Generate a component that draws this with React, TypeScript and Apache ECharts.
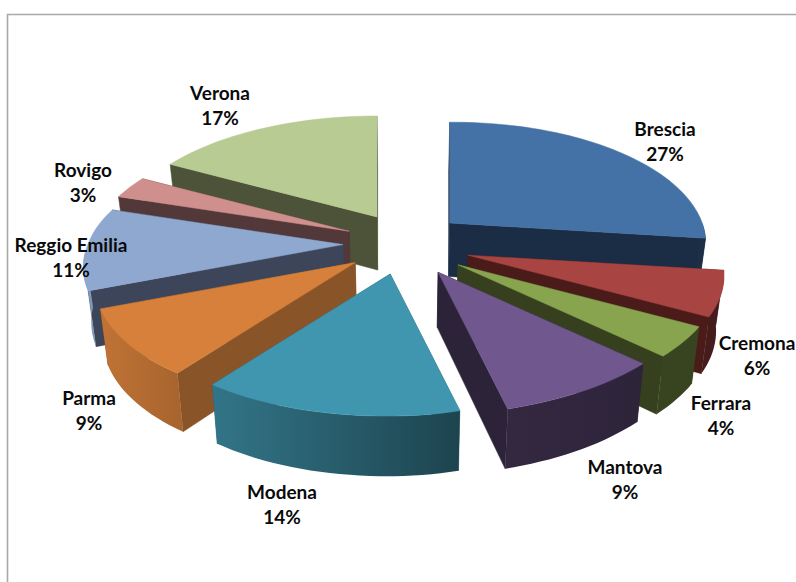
import React, { useEffect, useRef } from "react";
import * as echarts from "echarts";

const categories = ["Brescia", "Cremona", "Ferrara", "Mantova", "Modena", "Parma", "Reggio Emilia", "Rovigo", "Verona"];
const shares = [27, 6, 4, 9, 14, 9, 11, 3, 17];

const topColors = ["#4472A6", "#A84442", "#89A44E", "#70588E", "#4096AE", "#D6803B", "#8FA8CF", "#CF8F8D", "#B7CB93"];
const radialColors = ["#1A2D45", "#4A1B18", "#36401F", "#2C2338", "#2A5F6E", "#8A5429", "#3C4559", "#53383A", "#4D5339"];
const labelCentres: number[][] = [
  [665, 141], [757, 355], [721, 415], [625, 479], [282, 504], [89, 410], [71, 257], [83, 182], [220, 105],
];
const apexNudgeX = [-2.5, 3, 2, 1, -3, 0, 1, 2, 4];
const apexNudgeY = [0, 2, 3, 2, 0, 0, 0, 0, 0];
const drawOrder = [8, 0, 7, 1, 6, 2, 5, 3, 4];

const CX = 405, CY = 243.6;
const EX = 63, EY = 31;
const R = 249, KR = 118, P = 0.169;

const rad = (d: number) => (d * Math.PI) / 180;
const total = shares.reduce((a, b) => a + b, 0);
const bounds = shares.map((_, i) => {
  const before = shares.slice(0, i).reduce((a, b) => a + b, 0);
  return [(before / total) * 360, ((before + shares[i]) / total) * 360];
});

function arcShade(t: number) {
  if (t <= 165) return 0.41;
  if (t <= 216) return 0.45 + ((t - 165) / 51) * 0.33;
  if (t <= 250) return 0.8 + ((t - 216) / 34) * 0.1;
  return 0.92;
}
function shade(hex: string, f: number) {
  const n = parseInt(hex.slice(1), 16);
  const c = [(n >> 16) & 255, (n >> 8) & 255, n & 255].map((v) => Math.round(v * f));
  return `rgb(${c[0]},${c[1]},${c[2]})`;
}
function topPoint(t: number, ax: number, ay: number) {
  const s = Math.sin(rad(t)), c = Math.cos(rad(t));
  const k = 1 / (1 + P * c);
  let dx = R * s * k;
  if (s < 0) dx = dx * 1.025 - 5 * Math.max(0, -c);
  else dx += Math.min(1, s * 3) * (c > -0.5 ? 3.5 : 3.5 + (c + 0.5) * 20);
  return [ax + dx, ay - KR * c * k];
}
function bottomOf(p: number[]) {
  return [CX + (p[0] - CX) * 0.975, p[1] + 55 + (p[1] - 270) * 0.035];
}
function arcPoints(a: number, b: number, ax: number, ay: number) {
  const pts: number[][] = [];
  const n = Math.max(2, Math.ceil((b - a) / 2));
  for (let j = 0; j <= n; j++) pts.push(topPoint(a + ((b - a) * j) / n, ax, ay));
  return pts;
}

function renderSlice(_params: any, api: any) {
  const i = api.value(0) as number;
  const [a, b] = bounds[i];
  const mid = (a + b) / 2;
  const ax = CX + EX * Math.sin(rad(mid)) + apexNudgeX[i];
  const ay = CY - EY * Math.cos(rad(mid)) + apexNudgeY[i];
  const apex = [ax, ay];
  const apexB = bottomOf(apex);
  const children: any[] = [];
  const poly = (points: number[][], fill: any, stroke?: string) => ({
    type: "polygon",
    shape: { points },
    style: { fill, stroke: stroke ?? "none", lineWidth: stroke ? 0.5 : 0 },
    silent: true,
  });
  [a, b].forEach((t) => {
    const p = topPoint(t, ax, ay);
    children.push(poly([apex, p, bottomOf(p), apexB], radialColors[i], radialColors[i]));
  });
  const lo = Math.max(a, 90), hi = Math.min(b, 266);
  if (hi > lo) {
    const top = arcPoints(lo, hi, ax, ay);
    const bottom = top.map(bottomOf).reverse();
    const fill = new echarts.graphic.LinearGradient(0, 0, 1, 0, [
      { offset: 0, color: shade(topColors[i], arcShade(hi)) },
      { offset: 1, color: shade(topColors[i], arcShade(lo)) },
    ]);
    children.push(poly([...top, ...bottom], fill));
  }
  children.push(poly([apex, ...arcPoints(a, b, ax, ay)], topColors[i], topColors[i]));
  return { type: "group", children };
}

export default function App() {
  const ref = useRef<HTMLDivElement>(null);
  useEffect(() => {
    document.body.style.margin = "0";
    const chart = echarts.init(ref.current!, undefined, { renderer: "svg" });
    chart.setOption({
      animation: false,
      backgroundColor: "#ffffff",
      graphic: [
        {
          type: "polyline",
          shape: { points: [[7.5, 582], [7.5, 14.5], [796, 14.5]] },
          style: { stroke: "#A9A9A9", lineWidth: 1.6, fill: "none" },
          z: 1,
        },
        ...categories.map((name, i) => ({
          type: "text",
          x: labelCentres[i][0],
          y: labelCentres[i][1],
          z: 10,
          style: {
            text: `${name}\n${Math.round((shares[i] / total) * 100)}%`,
            fill: "#0a0a0a",
            font: 'bold 19px Lato',
            lineHeight: 25,
            align: "center",
            verticalAlign: "middle",
          },
        })),
      ],
      series: [
        {
          type: "custom",
          coordinateSystem: "none",
          silent: true,
          renderItem: renderSlice,
          data: drawOrder.map((i) => [i]),
          z: 2,
        },
      ],
    });
    return () => chart.dispose();
  }, []);
  return <div ref={ref} style={{ width: 796, height: 582 }} />;
}
